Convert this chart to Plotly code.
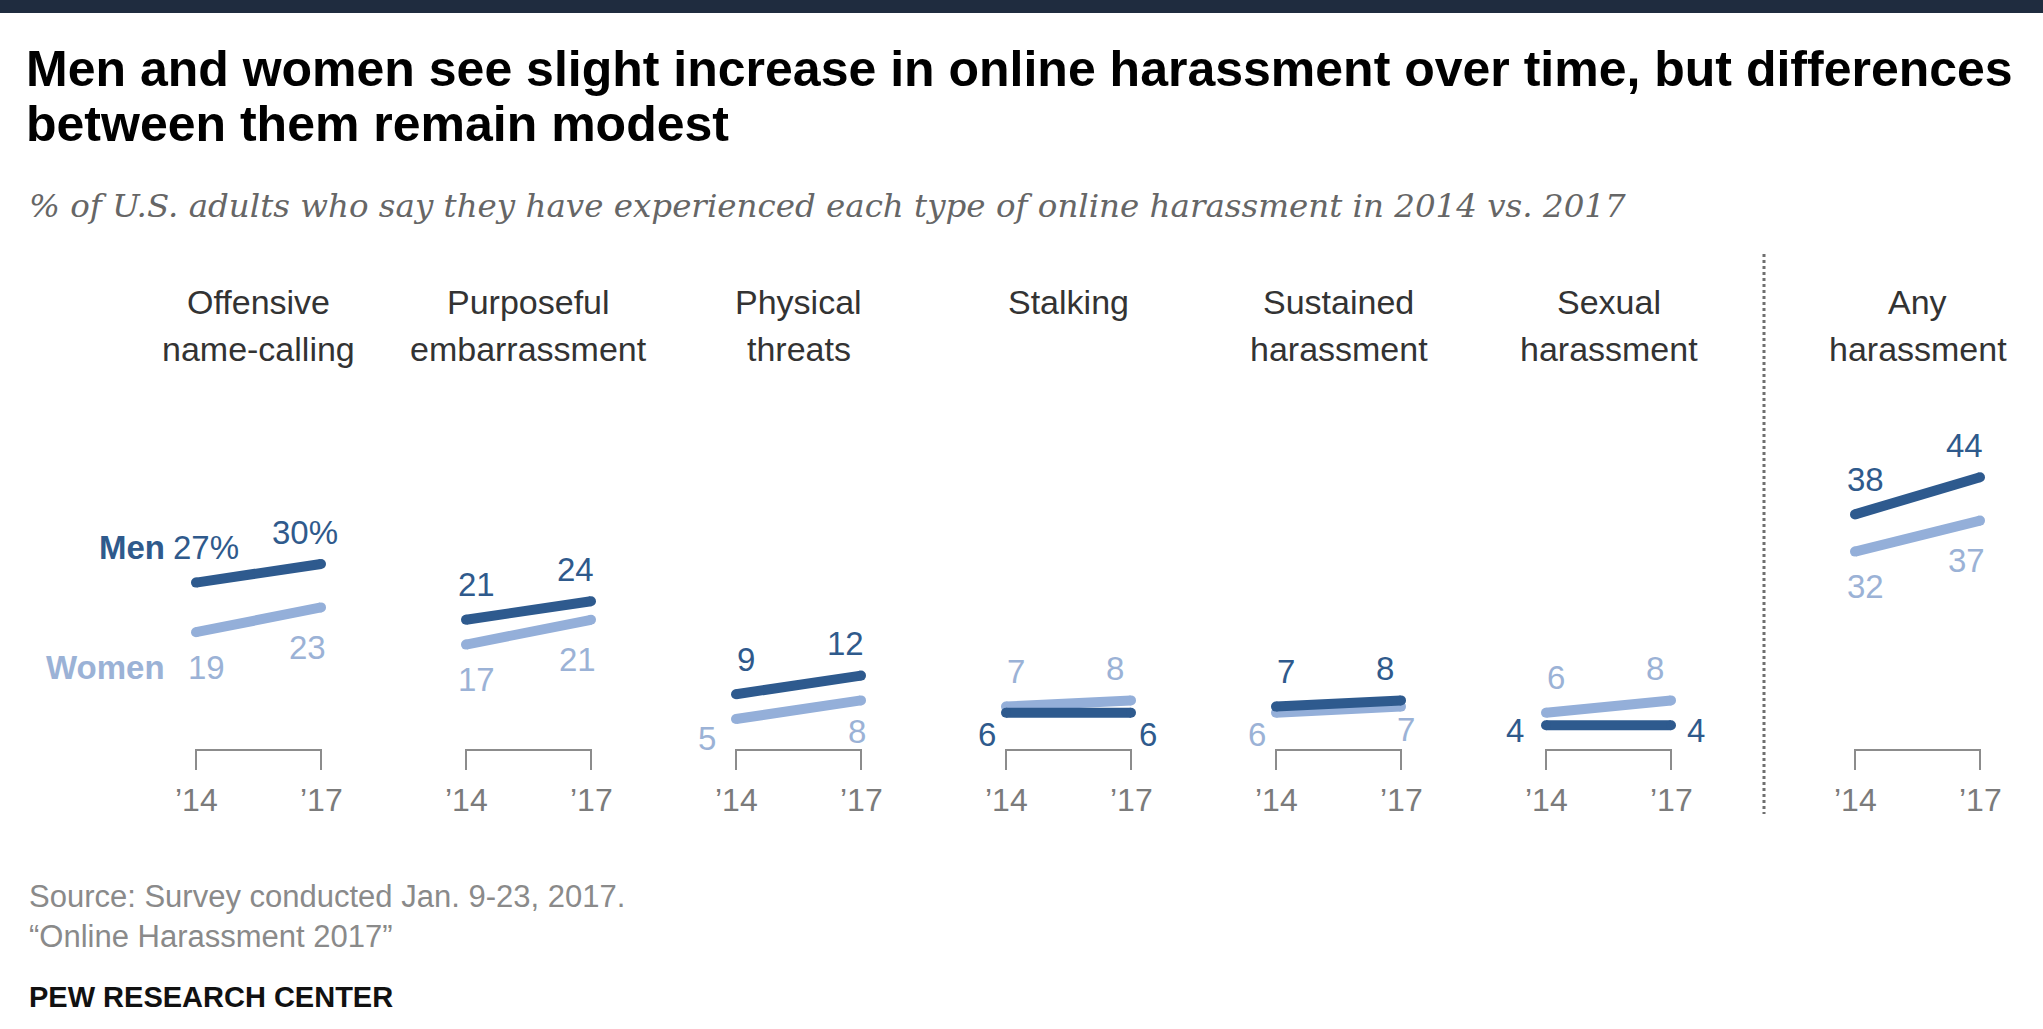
import plotly.graph_objects as go

# ---------------- data ----------------
categories = ["Offensive<br>name-calling", "Purposeful<br>embarrassment", "Physical<br>threats",
              "Stalking", "Sustained<br>harassment", "Sexual<br>harassment", "Any<br>harassment"]
years = ["’14", "’17"]
men_2014 = [27, 21, 9, 6, 7, 4, 38]
men_2017 = [30, 24, 12, 6, 8, 4, 44]
women_2014 = [19, 17, 5, 7, 6, 6, 32]
women_2017 = [23, 21, 8, 8, 7, 8, 37]

# label placement codes (style only)
men_pos14 = ["a", "a", "a", "l", "a", "lm", "a"]
men_pos17 = ["a", "a", "a", "r", "a", "rm", "a"]
women_pos14 = ["b", "b", "lb", "a", "l", "a", "b"]
women_pos17 = ["b", "b", "b2", "a", "rb", "a", "b"]

# ---------------- layout constants ----------------
W, H = 2043, 1029
PX_PER_UNIT = 6.2
ZERO_PX = 750
panel_x14 = [196 + 270 * i for i in range(6)] + [1855]
panel_w = 125

DARK = "#2e5a8e"
LIGHT = "#94afd9"
DARK_TXT = "#2f5a8c"
LIGHT_TXT = "#9bb2d6"
GREY = "#8c8c8c"
FONT = "Liberation Sans"
VSIZE = 33

fig = go.Figure()


def add_series(v14, v17, color):
    for i in range(len(categories)):
        x0 = panel_x14[i]
        x1 = x0 + panel_w
        fig.add_trace(go.Scatter(
            x=[x0, x1], y=[v14[i], v17[i]], mode="lines+markers",
            line=dict(color=color, width=10),
            marker=dict(color=color, size=10, line=dict(width=0)),
            hoverinfo="skip", showlegend=False))


add_series(women_2014, women_2017, LIGHT)
add_series(men_2014, men_2017, DARK)

ann = []

# code -> (xanchor, xshift, yshift) ; j=0 for '14 end, j=1 for '17 end
PLACE = {
    ("a", 0): ("center", 10, 35), ("a", 1): ("center", -16, 32),
    ("b", 0): ("center", 10, -35), ("b", 1): ("center", -14, -40),
    ("l", 0): ("right", -8, -22), ("r", 1): ("left", 6, -22),
    ("lm", 0): ("right", -20, -5), ("rm", 1): ("left", 14, -5),
    ("lb", 0): ("right", -18, -19), ("b2", 1): ("center", -4, -31),
    ("rb", 1): ("center", 5, -23),
}


def add_labels(v14, v17, pos14, pos17, color, is_men):
    for i in range(len(categories)):
        x0 = panel_x14[i]
        x1 = x0 + panel_w
        for j, (x, v, p) in enumerate([(x0, v14[i], pos14[i]), (x1, v17[i], pos17[i])]):
            txt = f"{v}%" if (i == 0 and is_men) else f"{v}"
            xa, xs, ys = PLACE[(p, j)]
            ann.append(dict(x=x, y=v, xref="x", yref="y", text=txt, showarrow=False,
                            xanchor=xa, xshift=xs, yshift=ys,
                            font=dict(family=FONT, size=VSIZE, color=color)))


add_labels(men_2014, men_2017, men_pos14, men_pos17, DARK_TXT, True)
add_labels(women_2014, women_2017, women_pos14, women_pos17, LIGHT_TXT, False)

# series names
ann.append(dict(x=panel_x14[0], y=men_2014[0], xref="x", yref="y", text="<b>Men</b>",
                showarrow=False, xanchor="right", xshift=-29, yshift=35,
                font=dict(family=FONT, size=VSIZE, color=DARK_TXT)))
ann.append(dict(x=panel_x14[0], y=women_2014[0], xref="x", yref="y", text="<b>Women</b>",
                showarrow=False, xanchor="right", xshift=-29, yshift=-35,
                font=dict(family=FONT, size=VSIZE, color=LIGHT_TXT)))

shapes = []
for i in range(len(categories)):
    x0 = panel_x14[i]
    x1 = x0 + panel_w
    d = 20 / PX_PER_UNIT
    shapes.append(dict(type="path", xref="x", yref="y",
                       path=f"M {x0},{-d} L {x0},0 L {x1},0 L {x1},{-d}",
                       line=dict(color=GREY, width=2)))
    for j, x in enumerate([x0, x1]):
        ann.append(dict(x=x, y=0, xref="x", yref="y", text=years[j], showarrow=False,
                        yshift=-50, font=dict(family=FONT, size=32, color="#7b7b7b")))
    # category headers, top-aligned lines
    for k, line in enumerate(categories[i].split("<br>")):
        ann.append(dict(x=(x0 + x1) / 2, y=1 - (302 + 47 * k) / H, xref="x", yref="paper",
                        text=line, showarrow=False, yanchor="middle",
                        font=dict(family=FONT, size=34, color="#333333")))

# dotted separator
shapes.append(dict(type="line", xref="paper", yref="paper", x0=1764 / W, x1=1764 / W,
                   y0=1 - 254 / H, y1=1 - 814 / H, line=dict(color="#6f6f6f", width=3, dash="dot")))
# top band
shapes.append(dict(type="rect", xref="paper", yref="paper", x0=0, x1=1, y0=1 - 13 / H, y1=1,
                   fillcolor="#1f2c3f", line=dict(width=0)))

# titles
ann.append(dict(x=24 / W, y=1 - 69 / H, xref="paper", yref="paper", xanchor="left", yanchor="middle",
                text="<b>Men and women see slight increase in online harassment over time, but differences</b>",
                showarrow=False, font=dict(family=FONT, size=50, color="#000000")))
ann.append(dict(x=24 / W, y=1 - 124 / H, xref="paper", yref="paper", xanchor="left", yanchor="middle",
                text="<b>between them remain modest</b>",
                showarrow=False, font=dict(family=FONT, size=50, color="#000000")))
ann.append(dict(x=27 / W, y=1 - 206 / H, xref="paper", yref="paper", xanchor="left", yanchor="middle",
                text="<i>% of U.S. adults who say they have experienced each type of online harassment in 2014 vs. 2017</i>",
                showarrow=False, font=dict(family="DejaVu Serif", size=32.5, color="#666666")))
# footer
ann.append(dict(x=27 / W, y=1 - 896 / H, xref="paper", yref="paper", xanchor="left", yanchor="middle",
                text="Source: Survey conducted Jan. 9-23, 2017.",
                showarrow=False, font=dict(family=FONT, size=31, color="#8a8a8a")))
ann.append(dict(x=27 / W, y=1 - 936 / H, xref="paper", yref="paper", xanchor="left", yanchor="middle",
                text="“Online Harassment 2017”",
                showarrow=False, font=dict(family=FONT, size=31, color="#8a8a8a")))
ann.append(dict(x=27 / W, y=1 - 997 / H, xref="paper", yref="paper", xanchor="left", yanchor="middle",
                text="<b>PEW RESEARCH CENTER</b>",
                showarrow=False, font=dict(family=FONT, size=29, color="#111111")))

fig.update_layout(
    width=W, height=H, margin=dict(l=0, r=0, t=0, b=0),
    paper_bgcolor="white", plot_bgcolor="white",
    xaxis=dict(range=[0, W], visible=False, fixedrange=True),
    yaxis=dict(range=[-(H - ZERO_PX) / PX_PER_UNIT, ZERO_PX / PX_PER_UNIT], visible=False, fixedrange=True),
    annotations=ann, shapes=shapes, showlegend=False,
)

fig.write_html("out.html", config={"displayModeBar": False},
               post_script="document.body.style.margin='0';")
